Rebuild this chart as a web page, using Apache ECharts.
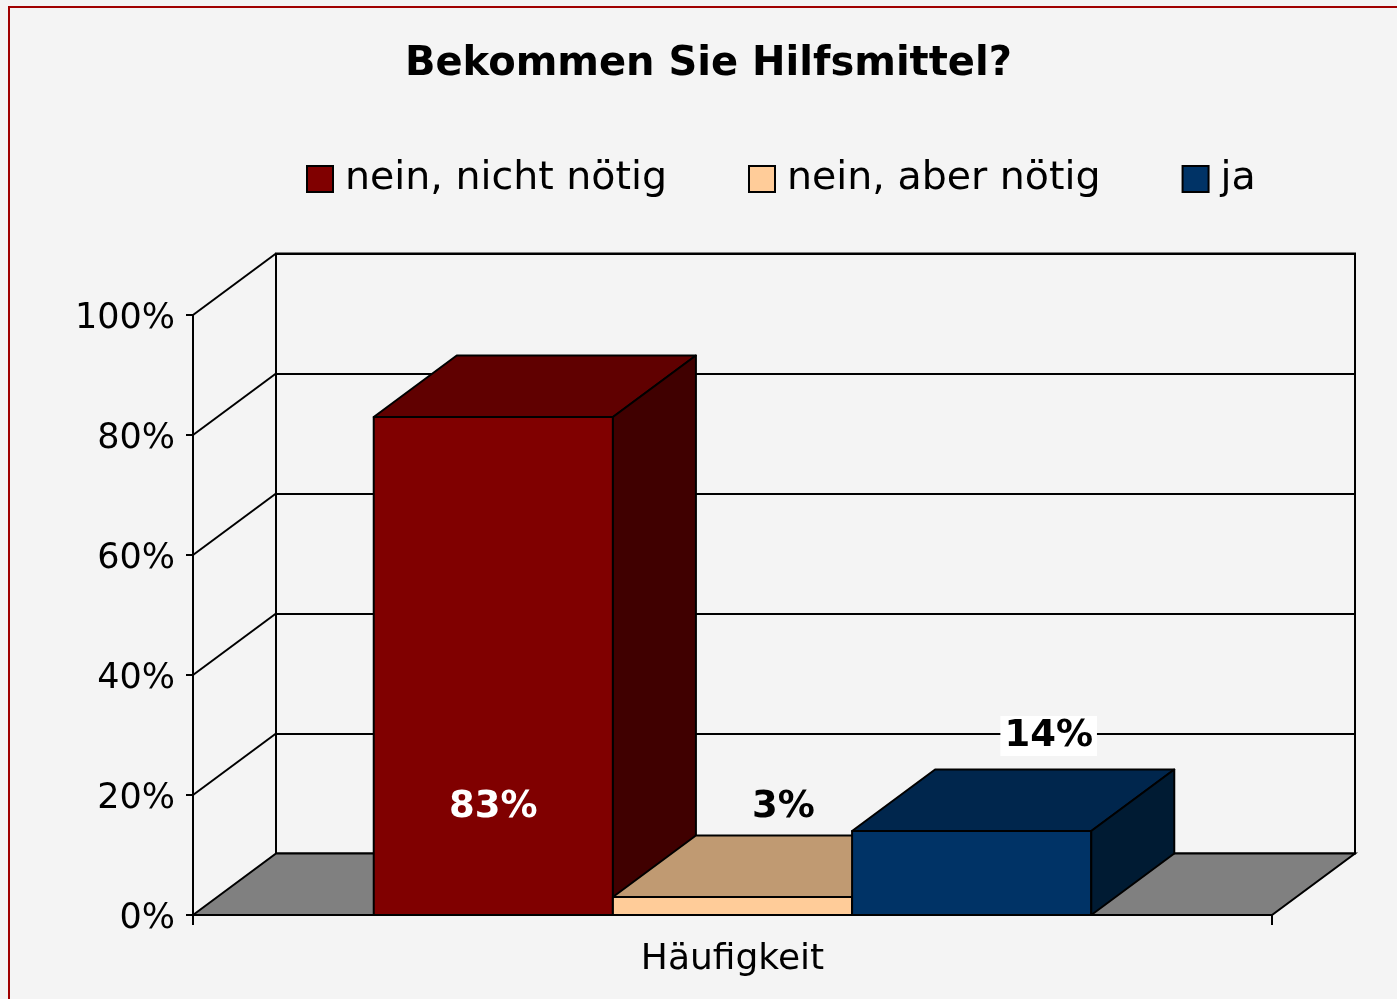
<!DOCTYPE html>
<html lang="de">
<head>
<meta charset="UTF-8">
<script src="https://cdn.jsdelivr.net/npm/echarts@6/dist/echarts.min.js"></script>
<style>
  html, body { margin: 0; padding: 0; background: #f4f4f4; }
  #main { width: 1397px; height: 999px; }
</style>
</head>
<body>
<div id="main"></div>
<script>
// data
var categories = ['Häufigkeit'];
var seriesNames = ['nein, nicht nötig', 'nein, aber nötig', 'ja'];
var neinNichtNoetig = [83];
var neinAberNoetig = [3];
var ja = [14];
var yTicks = [0, 20, 40, 60, 80, 100];

var seriesValues = [neinNichtNoetig, neinAberNoetig, ja];

// 3d look
var DX = 83, DY = 61.5;
var LW = 2;
var frontCols = ['#800000', '#ffcc99', '#003366'];
var topCols = ['#600000', '#c09a72', '#00264d'];
var sideCols = ['#400000', '#806650', '#001b33'];
// label placement relative to the bottom centre of the front face
var labelPlace = [
    { dx: 0, dy: -108, color: '#fff', bg: null },
    { dx: 51, dy: -108, color: '#000', bg: null },
    { dx: 77, dy: -179, color: '#000', bg: '#fff' }
];
var FONT = 'DejaVu Sans';
var edge = { stroke: '#000', lineWidth: LW, lineJoin: 'round' };

var myChart = echarts.init(document.getElementById('main'));

function wallRenderer(params, api) {
    var cs = params.coordSys;
    var children = [];
    var base = api.coord([0, 0])[1];
    children.push({
        type: 'polygon',
        shape: { points: [[cs.x, base], [cs.x + DX, base - DY], [cs.x + cs.width + DX, base - DY], [cs.x + cs.width, base]] },
        style: { fill: '#808080', stroke: '#000', lineWidth: LW }
    });
    yTicks.forEach(function (t) {
        if (t === 0) return;
        var y = api.coord([0, t])[1];
        children.push({
            type: 'line',
            shape: { x1: cs.x, y1: y, x2: cs.x + DX, y2: y - DY },
            style: { stroke: '#000', lineWidth: LW }
        });
    });
    return { type: 'group', children: children };
}

function barRenderer(k) {
    return function (params, api) {
        var v = api.value(1);
        var c = api.coord([api.value(0), 0]);
        var t = api.coord([api.value(0), v]);
        var band = api.size([1, 0])[0];
        var groupW = band * 0.665;
        var w = groupW / 3;
        var x0 = c[0] - groupW / 2 + k * w, x1 = x0 + w;
        var yb = c[1], yt = t[1];
        var lp = labelPlace[k];
        var lbl = {
            type: 'text',
            z2: 10,
            style: {
                text: v + '%',
                x: (x0 + x1) / 2 + lp.dx,
                y: yb + lp.dy,
                align: 'center',
                verticalAlign: 'middle',
                font: 'bold 37px "' + FONT + '"',
                fill: lp.color
            }
        };
        if (lp.bg) {
            lbl.style.backgroundColor = lp.bg;
            lbl.style.padding = [3, 4, 0, 4];
        }
        return {
            type: 'group',
            children: [
                { type: 'rect', shape: { x: x0, y: yt, width: w, height: yb - yt },
                  style: Object.assign({ fill: frontCols[k] }, edge) },
                { type: 'polygon', shape: { points: [[x0, yt], [x0 + DX, yt - DY], [x1 + DX, yt - DY], [x1, yt]] },
                  style: Object.assign({ fill: topCols[k] }, edge) },
                { type: 'polygon', shape: { points: [[x1, yt], [x1 + DX, yt - DY], [x1 + DX, yb - DY], [x1, yb]] },
                  style: Object.assign({ fill: sideCols[k] }, edge) },
                lbl
            ]
        };
    };
}

var series = [{
    type: 'custom',
    name: 'walls',
    xAxisIndex: 0, yAxisIndex: 0,
    z: 1,
    silent: true,
    renderItem: wallRenderer,
    data: [[0, 0]]
}];
seriesNames.forEach(function (name, k) {
    series.push({
        type: 'custom',
        name: name,
        xAxisIndex: 0, yAxisIndex: 0,
        z: 3 + k,
        itemStyle: { color: frontCols[k], borderColor: '#000', borderWidth: LW },
        renderItem: barRenderer(k),
        data: seriesValues[k].map(function (v, i) { return [i, v]; })
    });
});

var option = {
    backgroundColor: '#f4f4f4',
    animation: false,
    title: {
        text: 'Bekommen Sie Hilfsmittel?',
        left: 405,
        top: 45,
        padding: 0,
        textStyle: { fontFamily: FONT, fontWeight: 'bold', fontSize: 40, color: '#000' }
    },
    legend: {
        data: seriesNames,
        left: 306,
        top: 159,
        padding: 0,
        icon: 'rect',
        itemWidth: 26,
        itemHeight: 26,
        itemGap: 81,
        itemStyle: { borderColor: '#000', borderWidth: LW },
        textStyle: { fontFamily: FONT, fontSize: 39.5, color: '#000', padding: [0, 0, 0, 7] }
    },
    graphic: [{
        type: 'rect',
        shape: { x: 9, y: 7, width: 1500, height: 1100 },
        style: { fill: 'none', stroke: '#a00000', lineWidth: 2 },
        silent: true
    }],
    grid: [
        { left: 193, right: 125, top: 315, bottom: 84 },
        { left: 193 + DX, right: 125 - DX, top: 315 - DY, bottom: 84 + DY,
          show: true, borderColor: '#000', borderWidth: LW, backgroundColor: 'transparent' }
    ],
    xAxis: [{
        type: 'category',
        gridIndex: 0,
        data: categories,
        axisLine: { lineStyle: { color: '#000', width: LW } },
        axisTick: { show: true, length: 10, lineStyle: { color: '#000', width: LW } },
        axisLabel: { fontFamily: FONT, fontSize: 36, color: '#000', margin: 27 }
    }, {
        type: 'category',
        gridIndex: 1,
        data: categories,
        show: false
    }],
    yAxis: [{
        type: 'value',
        gridIndex: 0,
        min: 0, max: 100, interval: 20,
        axisLine: { show: true, lineStyle: { color: '#000', width: LW } },
        axisTick: { show: true, length: 7, lineStyle: { color: '#000', width: LW } },
        splitLine: { show: false },
        axisLabel: {
            formatter: function (v) { return '{t|' + v + '%}'; },
            margin: 18,
            rich: { t: { fontFamily: FONT, fontSize: 35, color: '#000', padding: [8, 0, 0, 0] } }
        }
    }, {
        type: 'value',
        gridIndex: 1,
        min: 0, max: 100, interval: 20,
        axisLine: { show: false },
        axisTick: { show: false },
        axisLabel: { show: false },
        splitLine: { show: true, lineStyle: { color: '#000', width: LW } }
    }],
    series: series
};

myChart.setOption(option);
</script>
</body>
</html>
